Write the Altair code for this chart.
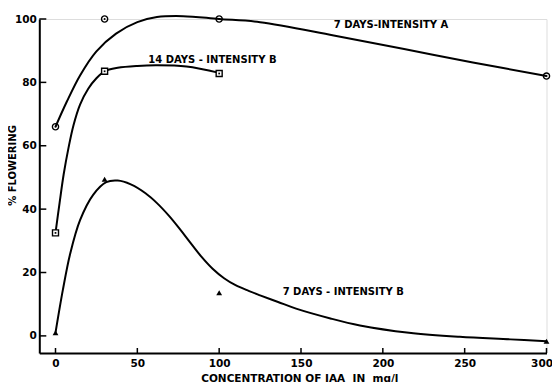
import altair as alt
import pandas as pd

# Measured points (concentration of IAA in mg/l, % flowering)
conc_a = [0, 30, 100, 300]
pct_a = [66, 100, 100, 82]          # 7 days - intensity A (circles)
conc_b14 = [0, 30, 100]
pct_b14 = [32.5, 83.5, 82.8]        # 14 days - intensity B (squares)
conc_b7 = [0, 30, 100, 300]
pct_b7 = [1, 49.4, 13.6, -1.7]      # 7 days - intensity B (triangles)

# Hand-drawn fitted curves
curve_a_x = [0, 6.8, 15, 25, 37, 50, 62, 78, 100, 125, 170, 213, 255, 300]
curve_a_y = [66, 73.8, 82.2, 89.8, 95.4, 99, 100.6, 100.9, 100, 99, 94.8, 90.5, 86.3, 82]
curve_b14_x = [0, 2.5, 5, 8, 11, 15, 20, 25, 30, 38, 50, 62, 80, 100]
curve_b14_y = [32.5, 42, 51, 59.5, 66.5, 73, 78, 81.3, 83.5, 84.6, 85.2, 85.4, 85, 83]
curve_b7_x = [0, 4.5, 9, 15, 23, 31, 38, 46, 55, 62, 69.5, 76, 82, 89, 96, 103, 110, 118, 125,
              136, 147, 168, 186, 216, 247, 278, 300]
curve_b7_y = [1, 14.5, 26, 36.5, 44.5, 48.5, 49, 47.8, 45, 41.9, 37.8, 33.7, 29.7, 25.1, 21.2, 18.2, 16, 14.2, 12.8,
              10.7, 8.6, 5.5, 3.3, 1, -0.3, -1.1, -1.7]

x_ticks = [0, 50, 100, 150, 200, 250, 300]
y_ticks = [0, 20, 40, 60, 80, 100]

FONT = "DejaVu Sans"
W, H = 507.2, 334

curves = pd.concat([
    pd.DataFrame({"x": curve_a_x, "y": curve_a_y, "s": "A7"}),
    pd.DataFrame({"x": curve_b14_x, "y": curve_b14_y, "s": "B14"}),
    pd.DataFrame({"x": curve_b7_x, "y": curve_b7_y, "s": "B7"}),
])
pts_a = pd.DataFrame({"x": conc_a, "y": pct_a})
pts_b14 = pd.DataFrame({"x": conc_b14, "y": pct_b14})
pts_b7 = pd.DataFrame({"x": conc_b7, "y": pct_b7})

xs = alt.Scale(domain=[-9.9, 300], nice=False, zero=False)
ys = alt.Scale(domain=[-5.4, 100], nice=False, zero=False)

X = alt.X("x:Q", scale=xs, axis=alt.Axis(
    values=x_ticks, ticks=False, grid=False, labelPadding=5,
    labelFontSize=10.5, labelFont=FONT, labelFontWeight="bold", labelColor="black",
    labelFlush=True, labelFlushOffset=6,
    domainColor="black", domainWidth=2,
    title="CONCENTRATION OF IAA\u00a0 IN\u00a0 mg/l", titleFont=FONT, titleFontSize=10.5,
    titleFontWeight="bold", titleColor="black", titleX=260, titleY=25,
    titleBaseline="middle", titleAlign="center"))
Y = alt.Y("y:Q", scale=ys, axis=alt.Axis(
    values=y_ticks, ticks=False, grid=False, labelPadding=3,
    labelFontSize=10.5, labelFont=FONT, labelFontWeight="bold", labelColor="black",
    domainColor="black", domainWidth=2,
    title="% FLOWERING", titleFont=FONT, titleFontSize=10, titleFontWeight="bold",
    titleColor="black", titleAngle=270, titleX=-27, titleY=146,
    titleBaseline="middle", titleAlign="center"))

lines = alt.Chart(curves).mark_line(interpolate="catmull-rom", color="black", strokeWidth=2).encode(
    x=X, y=Y, detail="s:N")

circ = alt.Chart(pts_a).mark_point(shape="circle", filled=False, color="black", size=38, strokeWidth=1.4, opacity=1).encode(
    x=alt.X("x:Q", scale=xs), y=alt.Y("y:Q", scale=ys))
circ_dot = alt.Chart(pts_a).mark_point(shape="circle", filled=True, color="black", size=4, opacity=1).encode(
    x=alt.X("x:Q", scale=xs), y=alt.Y("y:Q", scale=ys))
sq = alt.Chart(pts_b14).mark_point(shape="square", filled=True, fill="white", stroke="black", size=36, strokeWidth=1.4, opacity=1).encode(
    x=alt.X("x:Q", scale=xs), y=alt.Y("y:Q", scale=ys))
sq_dot = alt.Chart(pts_b14).mark_point(shape="square", filled=True, color="black", size=3, opacity=1).encode(
    x=alt.X("x:Q", scale=xs), y=alt.Y("y:Q", scale=ys))
tri = alt.Chart(pts_b7).mark_point(shape="triangle-up", filled=True, color="black", size=34, opacity=1).encode(
    x=alt.X("x:Q", scale=xs), y=alt.Y("y:Q", scale=ys))

xtick = alt.Chart(pd.DataFrame({"x": x_ticks})).mark_rule(color="black", strokeWidth=1.5).encode(
    x=alt.X("x:Q", scale=xs), y=alt.value(H), y2=alt.value(H - 5))
ytick = alt.Chart(pd.DataFrame({"y": y_ticks})).mark_rule(color="black", strokeWidth=1.5).encode(
    y=alt.Y("y:Q", scale=ys), x=alt.value(0), x2=alt.value(7))

def label(text, x, y):
    return alt.Chart(pd.DataFrame({"t": [text]})).mark_text(
        font=FONT, fontSize=10, fontWeight="bold", color="black", align="left", baseline="middle"
    ).encode(x=alt.datum(x, scale=xs), y=alt.datum(y, scale=ys), text="t:N")

lab_a = label("7 DAYS-INTENSITY  A", 170, 98.2)
lab_b14 = label("14 DAYS - INTENSITY B", 56.7, 87.0)
lab_b7 = label("7 DAYS - INTENSITY  B", 138.8, 14.0)

chart = alt.layer(
    lines, circ, circ_dot, sq, sq_dot, tri, xtick, ytick, lab_a, lab_b14, lab_b7
).properties(
    width=W, height=H,
    autosize=alt.AutoSizeParams(type="none"),
    padding={"left": 31.3, "top": 11, "right": 5.5, "bottom": 29},
).configure_view(stroke=None).configure(background="white")

chart.save("out.html", embed_options={"renderer": "svg", "actions": False})
